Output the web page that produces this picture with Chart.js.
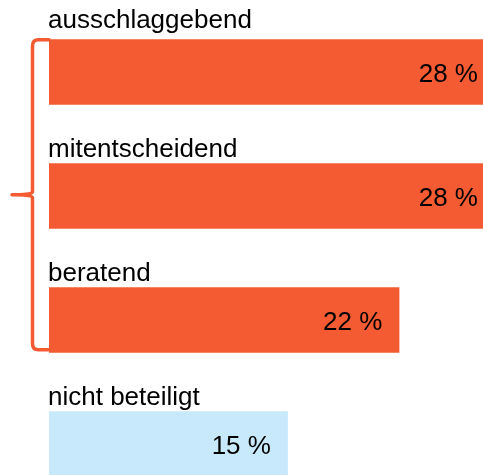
<!DOCTYPE html>
<html lang="de">
<head>
    <meta charset="UTF-8">
    <title>Beteiligung an Entscheidungen</title>
    <script src="https://cdn.jsdelivr.net/npm/chart.js"></script>
    <style>
        html, body {
            margin: 0;
            padding: 0;
            background: #fff;
            overflow: hidden;
        }
        #wrap {
            width: 483px;
            height: 506px;
            position: relative;
        }
    </style>
</head>
<body>
    <div id="wrap">
        <canvas id="myChart"></canvas>
    </div>

    <script>
        'use strict';
        var categories = ['ausschlaggebend', 'mitentscheidend', 'beratend', 'nicht beteiligt'];
        var shares = [28, 28, 22, 15];
        var valueLabels = ['28 %', '28 %', '22 %', '15 %'];

        var orange = '#f45b32';
        var lightBlue = '#c8e9fb';
        var barColors = [orange, orange, orange, lightBlue];
        var fontFamily = '"Liberation Sans", Arial, sans-serif';

        // category names above the bars, percentages inside at the right end
        var barTextPlugin = {
            id: 'barText',
            afterDatasetsDraw: function(chart) {
                var ctx = chart.ctx;
                var meta = chart.getDatasetMeta(0);
                var xScale = chart.scales.x;
                ctx.save();
                ctx.fillStyle = '#000';
                ctx.font = '26px ' + fontFamily;
                meta.data.forEach(function(bar, i) {
                    var top = bar.y - bar.height / 2;
                    ctx.textAlign = 'left';
                    ctx.textBaseline = 'alphabetic';
                    ctx.fillText(categories[i], chart.chartArea.left - 1, top - (i === 0 ? 11 : 6));
                    ctx.textAlign = 'right';
                    ctx.fillText(valueLabels[i], xScale.getPixelForValue(shares[i]) - 17, bar.y + 9.5);
                });
                ctx.restore();
            }
        };

        // curly brace grouping the first three bars
        var bracePlugin = {
            id: 'brace',
            afterDraw: function(chart) {
                var ctx = chart.ctx;
                var meta = chart.getDatasetMeta(0);
                var first = meta.data[0];
                var last = meta.data[2];
                var top = first.y - first.height / 2 + 0.5;
                var bottom = last.y + last.height / 2 - 3;
                var mid = (top + bottom) / 2;
                var right = chart.chartArea.left;
                var x = right - 16.5;
                var tip = right - 37;
                var r = 6;
                ctx.save();
                ctx.strokeStyle = orange;
                ctx.lineWidth = 3.5;
                ctx.lineCap = 'round';
                ctx.beginPath();
                ctx.moveTo(right, top);
                ctx.lineTo(x + r, top);
                ctx.quadraticCurveTo(x, top, x, top + r);
                ctx.lineTo(x, mid - 3);
                ctx.quadraticCurveTo(x, mid, tip + 4, mid);
                ctx.lineTo(tip, mid);
                ctx.moveTo(tip + 4, mid);
                ctx.quadraticCurveTo(x, mid, x, mid + 3);
                ctx.lineTo(x, bottom - r);
                ctx.quadraticCurveTo(x, bottom, x + r, bottom);
                ctx.lineTo(right, bottom);
                ctx.stroke();
                ctx.restore();
            }
        };

        var ctx = document.getElementById('myChart').getContext('2d');
        var myChart = new Chart(ctx, {
            type: 'bar',
            data: {
                labels: categories,
                datasets: [{
                    data: shares,
                    backgroundColor: barColors,
                    borderWidth: 0,
                    barPercentage: 1,
                    categoryPercentage: 0.53
                }]
            },
            options: {
                indexAxis: 'y',
                responsive: true,
                maintainAspectRatio: false,
                animation: false,
                events: [],
                layout: {
                    padding: { left: 49, right: 0, top: 10, bottom: 0 }
                },
                scales: {
                    x: {
                        display: false,
                        min: 0,
                        max: 27.25
                    },
                    y: {
                        display: false
                    }
                },
                plugins: {
                    legend: { display: false },
                    tooltip: { enabled: false }
                }
            },
            plugins: [barTextPlugin, bracePlugin]
        });
    </script>
</body>
</html>
